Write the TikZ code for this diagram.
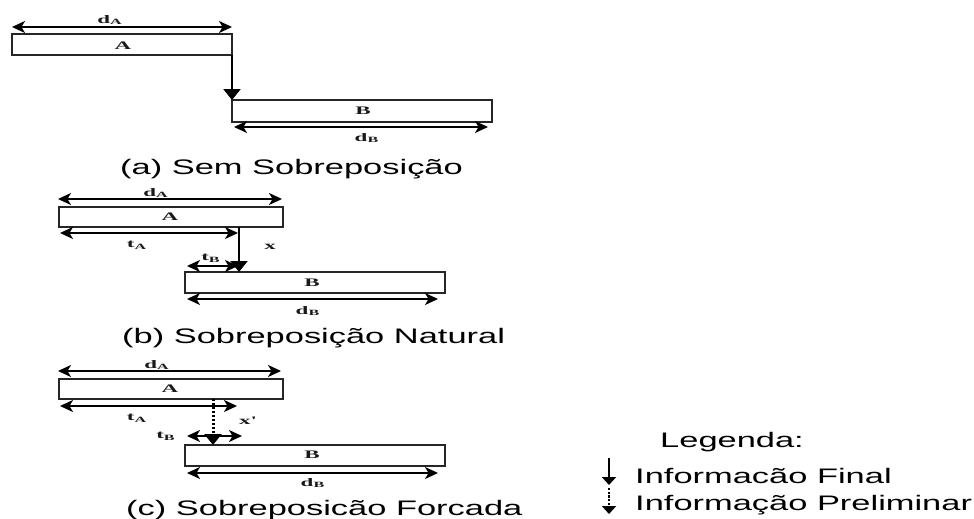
\documentclass[tikz,border=0pt]{standalone}
\usepackage{fontspec}
\usepackage{graphicx}
\usetikzlibrary{arrows.meta}
\newfontfamily\capsans{Liberation Sans}
\newfontfamily\lblserif{Liberation Serif}
% wide sans captions and small bold serif tags
\newcommand{\captext}[1]{\scalebox{1.64}[1]{\fontsize{21}{21}\selectfont\capsans #1}}
\newcommand{\tagtext}[1]{\scalebox{2.0}[1]{\fontsize{11.5}{11.5}\selectfont\lblserif\bfseries #1}}
\newcommand{\sub}[1]{\textsubscript{#1}}

\begin{document}
\begin{tikzpicture}[x=1pt,y=-1pt,
  box/.style={draw=black!85, line width=2.2pt, inner sep=0pt, outer sep=0pt, anchor=north west},
  tag/.style={inner sep=0pt, text=black!90},
  captxt/.style={inner sep=0pt, anchor=base west},
  dim/.style={{Stealth[length=13pt,width=12pt,inset=3.5pt]}-{Stealth[length=13pt,width=12pt,inset=3.5pt]}, line width=1.6pt},
  flow/.style={-{Triangle[length=11pt,width=17pt]}, line width=2.2pt},
  prelim/.style={flow, line width=3pt, dash pattern=on 2.4pt off 1.6pt},
  legflow/.style={-{Triangle[length=8pt,width=14pt]}, line width=2.2pt},
]
\useasboundingbox (0,0) rectangle (974,519);

% ---------- (a) Sem Sobreposicao ----------
\node[box, minimum width=220pt, minimum height=21pt] (Aa) at (12,34) {};
\node[box, minimum width=260pt, minimum height=22pt] (Ba) at (232,100) {};
\node[tag] (Aalbl) at (123,46) {\tagtext{A}};
\node[tag] (Balbl) at (363,111) {\tagtext{B}};
\coordinate (adA1) at (12,27);  \coordinate (adA2) at (232,27);
\coordinate (adB1) at (234,127); \coordinate (adB2) at (488,127);
\draw[dim] (adA1) -- (adA2);
\draw[dim] (adB1) -- (adB2);
\node[tag] (adAl) at (110,20) {\tagtext{d\sub{A}}};
\node[tag] (adBl) at (367,138) {\tagtext{d\sub{B}}};
\draw[flow] (Aa.south east) -- (Ba.north west);
\node[captxt] (capa) at (120,174) {\captext{(a) Sem Sobreposição}};

% ---------- (b) Sobreposicao Natural ----------
\node[box, minimum width=224pt, minimum height=20pt] (Ab) at (59,207) {};
\node[box, minimum width=260pt, minimum height=21pt] (Bb) at (185,272) {};
\node[tag] (Ablbl) at (170,217) {\tagtext{A}};
\node[tag] (Bblbl) at (312,283) {\tagtext{B}};
\coordinate (bdA1) at (58,199);  \coordinate (bdA2) at (282,199);
\coordinate (btA1) at (60,233);  \coordinate (btA2) at (238,233);
\coordinate (btB1) at (187,266); \coordinate (btB2) at (238,266);
\coordinate (bdB1) at (187,299); \coordinate (bdB2) at (438,299);
\coordinate (bx0) at (239,227);  \coordinate (bx1) at (239,272);
\draw[dim] (bdA1) -- (bdA2);
\draw[dim] (btA1) -- (btA2);
\draw[dim] (btB1) -- (btB2);
\draw[dim] (bdB1) -- (bdB2);
\draw[flow] (bx0) -- (bx1);
\node[tag] (bdAl) at (156,193) {\tagtext{d\sub{A}}};
\node[tag] (btAl) at (137,245) {\tagtext{t\sub{A}}};
\node[tag] (bxl)  at (270,247) {\tagtext{x}};
\node[tag] (btBl) at (211,258) {\tagtext{t\sub{B}}};
\node[tag] (bdBl) at (308,311) {\tagtext{d\sub{B}}};
\node[captxt] (capb) at (122,343) {\captext{(b) Sobreposição Natural}};

% ---------- (c) Sobreposicao Forcada ----------
\node[box, minimum width=224pt, minimum height=20pt] (Ac) at (59,379) {};
\node[box, minimum width=260pt, minimum height=21pt] (Bc) at (185,445) {};
\node[tag] (Aclbl) at (170,389) {\tagtext{A}};
\node[tag] (Bclbl) at (312,455) {\tagtext{B}};
\coordinate (cdA1) at (58,371);  \coordinate (cdA2) at (281,371);
\coordinate (ctA1) at (60,406);  \coordinate (ctA2) at (237,406);
\coordinate (ctB1) at (187,436); \coordinate (ctB2) at (242,436);
\coordinate (cdB1) at (187,473); \coordinate (cdB2) at (438,473);
\coordinate (cx0) at (213,399);  \coordinate (cx1) at (213,445);
\draw[dim] (cdA1) -- (cdA2);
\draw[dim] (ctA1) -- (ctA2);
\draw[dim] (ctB1) -- (ctB2);
\draw[dim] (cdB1) -- (cdB2);
\draw[prelim] (cx0) -- (cx1);
\node[tag] (cdAl) at (157,365) {\tagtext{d\sub{A}}};
\node[tag] (ctAl) at (137,418) {\tagtext{t\sub{A}}};
\node[tag] (cxl)  at (248,421) {\tagtext{x'}};
\node[tag] (ctBl) at (166,436) {\tagtext{t\sub{B}}};
\node[tag] (cdBl) at (313,483) {\tagtext{d\sub{B}}};
\node[captxt] (capc) at (126,515) {\captext{(c) Sobreposicão Forcada}};

% ---------- legend ----------
\node[captxt] (leg) at (660,447) {\captext{Legenda:}};
\coordinate (l1a) at (609,458); \coordinate (l1b) at (609,485);
\coordinate (l2a) at (609,488); \coordinate (l2b) at (609,514);
\draw[legflow] (l1a) -- (l1b);
\draw[legflow, dash pattern=on 2.2pt off 1.5pt] (l2a) -- (l2b);
\node[captxt] (leg1) at (635,483) {\captext{Informacão Final}};
\node[captxt] (leg2) at (635,510) {\captext{Informação Preliminar}};
\end{tikzpicture}
\end{document}
